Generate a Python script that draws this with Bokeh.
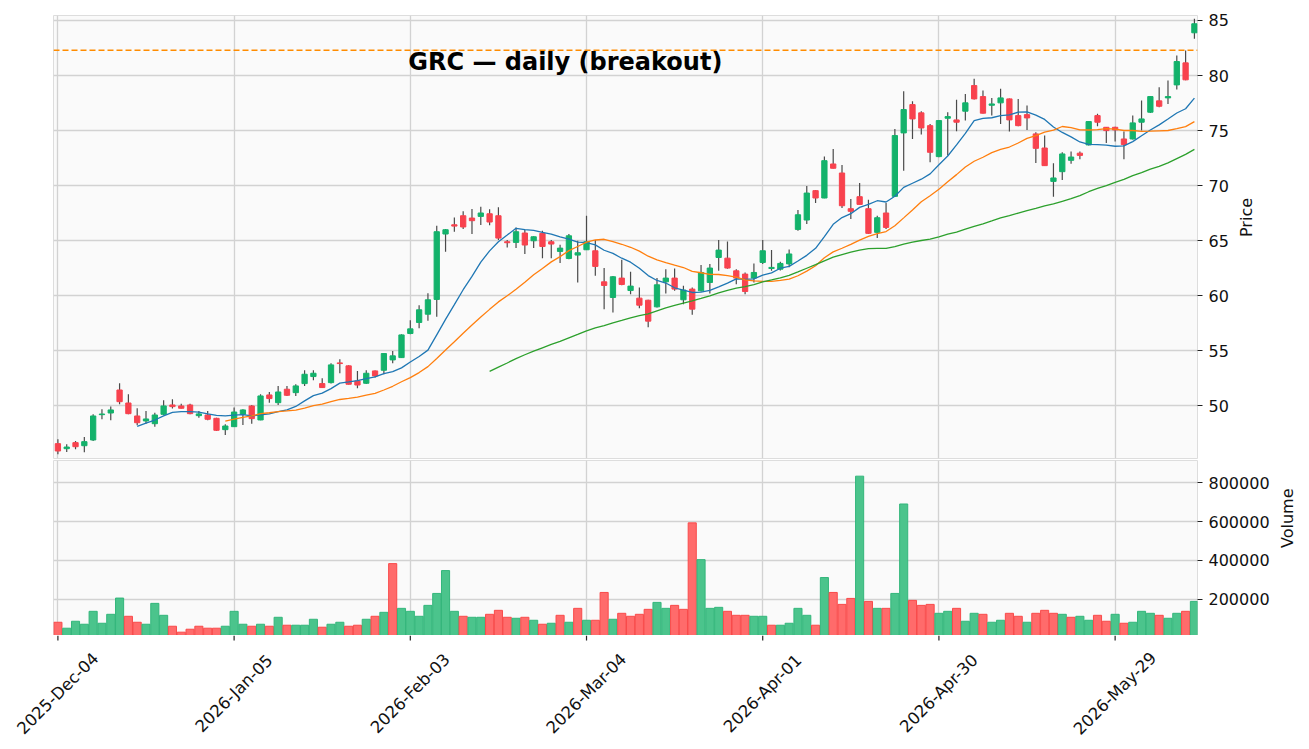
import math
import pandas as pd
from bokeh.plotting import figure
from bokeh.layouts import column
from bokeh.models import (ColumnDataSource, Range1d, FixedTicker, Span, Label,
                          BasicTickFormatter)
from bokeh.core.properties import value
from bokeh.embed import file_html
from bokeh.resources import INLINE

# ---------------- data ----------------
symbol_title = "GRC \u2014 daily  (breakout)"
start_date = "2025-12-04"
market_holidays = ["2025-12-25", "2026-01-01", "2026-01-19", "2026-02-16",
                   "2026-04-03", "2026-05-25"]

opens = [46.58, 46.12, 46.67, 46.39, 46.91, 49.21, 49.36, 51.45, 50.27, 49.09,
         48.64, 48.39, 49.24, 50.09, 50.00, 50.09, 49.12, 49.18, 48.88, 47.85,
         48.12, 49.24, 50.00, 48.73, 51.00, 50.30, 51.52, 51.21, 52.03, 52.67,
         52.03, 52.12, 53.91, 53.64, 52.27, 52.06, 53.18, 53.24, 54.18, 54.39,
         56.58, 57.58, 58.33, 59.67, 65.61, 66.45, 67.27, 67.06, 67.21, 67.45,
         67.27, 64.91, 64.85, 65.70, 65.00, 65.67, 64.91, 64.03, 63.39, 63.70,
         64.18, 64.09, 61.27, 59.85, 61.61, 60.48, 59.79, 59.60, 59.00, 61.27,
         61.61, 59.64, 60.61, 60.45, 61.21, 63.48, 63.42, 62.27, 61.97, 61.61,
         63.03, 62.48, 62.42, 62.90, 66.03, 66.88, 69.55, 68.88, 71.97, 71.15,
         67.91, 69.00, 67.91, 65.76, 67.52, 69.03, 74.79, 77.36, 76.61, 75.45,
         72.64, 76.12, 75.97, 76.76, 79.09, 78.09, 77.30, 77.52, 77.88, 76.36,
         76.45, 74.70, 73.42, 70.39, 71.27, 72.30, 72.95, 73.70, 76.36, 75.30,
         75.30, 74.24, 74.24, 75.76, 76.67, 77.70, 77.97, 79.15, 81.15, 83.88]
highs = [46.97, 46.52, 46.82, 47.18, 49.24, 49.70, 49.94, 52.06, 51.06, 49.79,
         49.55, 49.39, 50.52, 50.61, 50.21, 50.21, 49.55, 49.55, 48.92, 48.33,
         49.85, 49.70, 50.09, 51.06, 51.27, 51.82, 51.82, 51.97, 53.24, 53.24,
         52.52, 53.88, 54.24, 53.70, 53.18, 53.24, 53.22, 54.80, 55.00, 56.50,
         57.79, 59.15, 60.24, 66.36, 66.06, 67.12, 67.67, 67.88, 68.09, 67.85,
         68.03, 65.06, 66.21, 66.00, 65.40, 65.91, 65.06, 64.64, 65.61, 65.00,
         67.27, 65.06, 62.52, 61.80, 63.27, 62.18, 60.76, 59.65, 61.61, 62.42,
         62.48, 60.91, 60.76, 62.79, 62.88, 65.06, 64.94, 62.42, 62.12, 62.94,
         65.06, 64.15, 63.10, 64.20, 67.79, 69.97, 69.60, 72.64, 73.33, 71.88,
         68.79, 70.24, 68.73, 67.27, 68.42, 75.15, 78.58, 77.67, 76.76, 75.61,
         75.95, 76.67, 77.79, 78.33, 79.70, 78.64, 77.97, 78.79, 77.92, 77.88,
         77.27, 74.85, 74.55, 72.03, 73.03, 73.10, 73.10, 75.85, 76.52, 75.33,
         75.35, 74.91, 76.36, 77.73, 78.12, 78.94, 79.55, 81.82, 82.27, 85.15]
lows = [45.61, 45.82, 46.06, 45.79, 46.82, 48.79, 48.70, 50.15, 49.25, 48.24,
        48.39, 48.12, 49.15, 49.76, 49.76, 49.24, 48.94, 48.70, 47.73, 47.36,
        48.10, 48.27, 48.39, 48.70, 50.30, 50.09, 50.91, 50.91, 51.82, 52.33,
        51.62, 52.03, 52.97, 51.95, 51.61, 52.00, 52.58, 52.88, 53.88, 54.35,
        56.50, 57.06, 57.73, 58.09, 64.00, 65.82, 66.06, 65.61, 66.42, 66.40,
        65.06, 64.39, 64.33, 63.79, 64.33, 63.42, 63.42, 62.97, 63.33, 61.21,
        64.15, 61.82, 58.79, 58.48, 60.97, 60.15, 58.88, 57.15, 58.94, 60.21,
        60.45, 59.24, 58.27, 60.40, 60.21, 62.27, 62.45, 61.06, 60.15, 61.21,
        62.88, 62.27, 62.30, 62.60, 65.91, 66.52, 68.42, 68.85, 71.55, 67.97,
        66.97, 68.28, 65.61, 65.24, 66.06, 69.00, 71.36, 74.24, 74.64, 72.12,
        72.58, 72.73, 74.94, 75.91, 77.82, 76.55, 76.36, 75.61, 74.91, 75.40,
        75.06, 72.06, 71.80, 69.00, 70.52, 72.00, 72.40, 73.65, 75.39, 73.88,
        74.00, 72.40, 74.20, 75.00, 76.60, 77.12, 77.42, 78.73, 79.58, 83.33]
closes = [45.91, 46.27, 46.30, 46.76, 49.09, 49.27, 49.64, 50.39, 49.30, 48.48,
          48.82, 49.18, 50.00, 49.94, 49.79, 49.30, 49.28, 48.79, 47.79, 48.18,
          49.45, 49.64, 48.85, 50.91, 50.67, 51.27, 50.97, 51.82, 52.88, 52.97,
          51.67, 53.73, 53.85, 51.97, 51.90, 52.97, 52.73, 54.76, 54.55, 56.45,
          57.00, 58.73, 59.64, 65.82, 66.00, 66.33, 66.25, 66.82, 67.52, 66.70,
          65.24, 64.82, 65.82, 64.61, 65.36, 64.48, 64.70, 64.33, 65.45, 63.91,
          64.91, 62.67, 60.94, 61.73, 61.03, 60.88, 59.15, 57.70, 61.00, 61.61,
          60.61, 60.52, 58.79, 62.12, 62.52, 64.15, 62.52, 61.61, 60.39, 62.12,
          64.09, 62.58, 62.94, 63.80, 67.36, 69.33, 68.88, 72.27, 71.58, 68.18,
          67.67, 68.30, 65.67, 67.09, 66.21, 74.55, 76.91, 76.06, 75.24, 73.03,
          75.91, 76.27, 75.76, 77.52, 77.88, 76.58, 77.42, 77.97, 75.97, 75.45,
          76.15, 73.39, 71.82, 70.70, 72.88, 72.60, 72.75, 75.82, 75.76, 75.00,
          75.06, 73.73, 75.70, 76.06, 78.09, 77.21, 78.09, 81.27, 79.61, 84.70]
volumes = [80300, 49600, 85500, 70100, 136800, 75200, 121400, 205100, 111100, 80300,
           70100, 177800, 116200, 59800, 29100, 44400, 59800, 49600, 49600, 59800,
           136800, 70100, 59800, 70100, 59800, 106000, 65000, 65000, 65000, 95700,
           54700, 70100, 80300, 59800, 65000, 95700, 111100, 131600, 382900, 152100,
           136800, 111100, 167500, 229100, 347000, 136800, 111100, 106000, 106000, 121400,
           141900, 106000, 100900, 106000, 90600, 70100, 75200, 116200, 80300, 152100,
           90600, 90600, 234200, 95700, 126500, 111100, 121400, 147000, 182900, 152100,
           167500, 147000, 593200, 403400, 152100, 157300, 136800, 116200, 116200, 111100,
           111100, 65000, 65000, 75200, 152100, 116200, 65000, 311100, 234200, 172600,
           203400, 834200, 188000, 152100, 152100, 229100, 690600, 193200, 167500, 172600,
           126500, 136800, 152100, 85500, 126500, 121400, 80300, 90600, 126500, 111100,
           80300, 126500, 141900, 126500, 121400, 106000, 111100, 90600, 116200, 85500,
           121400, 75200, 80300, 136800, 126500, 116200, 100900, 126500, 136800, 188000]

tick_labels = ["2025-Dec-04", "2026-Jan-05", "2026-Feb-03", "2026-Mar-04",
               "2026-Apr-01", "2026-Apr-30", "2026-May-29"]
price_ticks = [50, 55, 60, 65, 70, 75, 80, 85]
volume_ticks = [200000, 400000, 600000, 800000]
ma_windows = [10, 20, 50]
ma_colors = ["#1f77b4", "#ff7f0e", "#2ca02c"]
breakout_level = 82.3

# ---------------- derived ----------------
n = len(closes)
idx = list(range(n))
dates = pd.bdate_range(start=start_date, periods=n, freq="C", holidays=market_holidays)
date_str = [d.strftime("%Y-%b-%d") for d in dates]
tick_pos = [date_str.index(t) for t in tick_labels]

UP, DOWN = "#13b26b", "#f8424e"
VUP_FILL, VUP_LINE = "#4bc48c", "#33b67b"
VDN_FILL, VDN_LINE = "#ff6b6b", "#f94a4a"

body_top = [max(o, c) for o, c in zip(opens, closes)]
body_bot = [min(o, c) for o, c in zip(opens, closes)]
is_up = [c >= o for o, c in zip(opens, closes)]
vol_up = [is_up[0]] + [closes[i] > closes[i - 1] for i in range(1, n)]

src = ColumnDataSource(dict(
    x=idx, o=opens, h=highs, l=lows, c=closes, top=body_top, bot=body_bot,
    color=[UP if u else DOWN for u in is_up],
    v=volumes,
    vfill=[VUP_FILL if u else VDN_FILL for u in vol_up],
    vline=[VUP_LINE if u else VDN_LINE for u in vol_up],
))

FONT = "DejaVu Sans"
TXT = "#111111"
LEFT = 53
FRAME_W = 1144
X0, X1 = -0.5, n - 0.65
x_range = Range1d(X0, X1)
units_per_px = (X1 - X0) / FRAME_W


def style_right_axis(a, label, standoff):
    a.axis_label = label
    a.axis_label_text_font = FONT
    a.axis_label_text_font_size = "16px"
    a.axis_label_text_font_style = "normal"
    a.axis_label_text_color = TXT
    a.axis_label_standoff = standoff
    if "axis_label_orientation" in a.properties():
        a.axis_label_orientation = math.pi / 2
    a.major_label_text_font = FONT
    a.major_label_text_font_size = "16px"
    a.major_label_text_color = TXT
    a.major_label_standoff = 6
    a.axis_line_color = None
    a.major_tick_in = 0
    a.major_tick_out = 5
    a.major_tick_line_color = "#222222"
    a.minor_tick_line_color = None


def style_grid(p):
    for g in (p.xgrid, p.ygrid):
        g.grid_line_color = "#d2d2d2"
        g.grid_line_width = 1.3


# ---------------- price panel ----------------
p1 = figure(x_range=x_range, y_range=Range1d(45.23, 85.45),
            frame_width=FRAME_W, frame_height=443,
            output_backend="svg", toolbar_location=None, title=None,
            y_axis_location="right", min_border_left=LEFT, min_border_top=15,
            min_border_bottom=2, min_border_right=110,
            background_fill_color="#fafafa", border_fill_color="white")
p1.outline_line_color = "#dddddd"
p1.xaxis.visible = False
p1.xgrid.ticker = FixedTicker(ticks=tick_pos)
p1.yaxis.ticker = FixedTicker(ticks=price_ticks)
style_grid(p1)
style_right_axis(p1.yaxis[0], "Price", 15)

p1.segment(x0="x", y0="l", x1="x", y1="h", source=src, line_color="#4a4a4a", line_width=1.2)
p1.vbar(x="x", top="top", bottom="bot", width=0.6, source=src,
        fill_color="color", line_color="color", line_width=1)

close_series = pd.Series(closes)
for w, col in zip(ma_windows, ma_colors):
    ma = close_series.rolling(w).mean()
    mask = ma.notna()
    p1.line([i for i, m in zip(idx, mask) if m], ma[mask].tolist(),
            line_color=col, line_width=1.3)

p1.add_layout(Span(location=breakout_level, dimension="width", line_color="#ff8c00",
                   line_dash="6 3", line_width=1.6))
p1.add_layout(Label(x=516, y=397, x_units="screen", y_units="screen", text=symbol_title,
                    text_font=FONT, text_font_size="24px", text_font_style="bold",
                    text_align="center", text_baseline="middle", text_color="#000000"))

# ---------------- volume panel ----------------
p2 = figure(x_range=x_range, y_range=Range1d(12000, 915000),
            frame_width=FRAME_W, frame_height=175,
            output_backend="svg", toolbar_location=None, title=None,
            y_axis_location="right", min_border_left=LEFT, min_border_top=0,
            min_border_bottom=0, min_border_right=110,
            background_fill_color="#fafafa", border_fill_color="white")
p2.outline_line_color = "#dddddd"
p2.vbar(x="x", top="v", bottom=0, width=0.92, source=src,
        fill_color="vfill", line_color="vline", line_width=1)
p2.xaxis.visible = False
p2.xgrid.ticker = FixedTicker(ticks=tick_pos)
p2.yaxis.ticker = FixedTicker(ticks=volume_ticks)
p2.yaxis.formatter = BasicTickFormatter(use_scientific=False)
style_grid(p2)
style_right_axis(p2.yaxis[0], "Volume", 15)

# ---------------- date labels strip (own root, frame starts at page left edge) ----------------
p3 = figure(x_range=Range1d(X0 - LEFT * units_per_px, X1), y_range=Range1d(0, 105),
            frame_width=FRAME_W + LEFT, frame_height=105,
            output_backend="svg", toolbar_location=None, title=None,
            min_border_left=0, min_border_top=0, min_border_bottom=0,
            min_border_right=0, background_fill_color="white",
            border_fill_color="white")
p3.outline_line_color = None
p3.axis.visible = False
p3.grid.visible = False
p3.segment(x0=tick_pos, y0=[105] * len(tick_pos), x1=tick_pos, y1=[100] * len(tick_pos),
           line_color="#222222", line_width=1.2)
p3.text(x=tick_pos, y=[47] * len(tick_pos), text=tick_labels, angle=45, angle_units="deg",
        text_font=value(FONT), text_font_size="16.5px", text_color=TXT,
        text_align="center", text_baseline="middle")

layout = column(p1, p2, spacing=0)
open("out.html", "w").write(file_html([layout, p3], INLINE))
